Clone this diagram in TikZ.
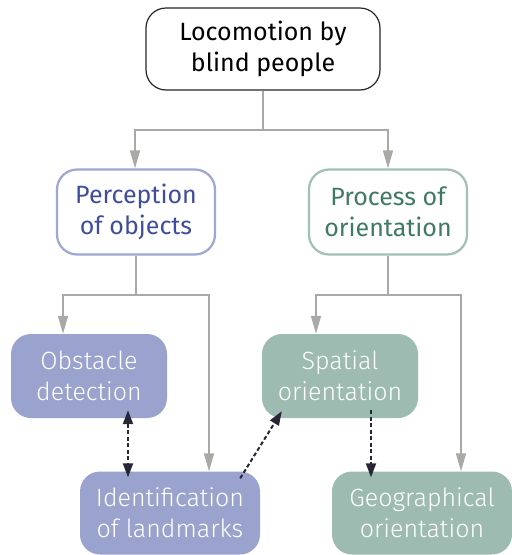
\documentclass[tikz,border=0pt]{standalone}
\usepackage{fontspec}
\setmainfont{Fira Sans}
\newfontfamily\lightfont{Fira Sans Light}
\usetikzlibrary{arrows.meta}

\definecolor{purplefill}{HTML}{9AA3CD}
\definecolor{greenfill}{HTML}{9DBBB1}
\definecolor{purpleline}{HTML}{9EA7D3}
\definecolor{purpletext}{HTML}{3F4E9C}
\definecolor{greenline}{HTML}{A0C0B5}
\definecolor{greentext}{HTML}{3F7A67}
\definecolor{linkgray}{HTML}{A9A9A6}
\definecolor{linkdark}{HTML}{262636}

\tikzset{
  box/.style={rectangle, rounded corners=20pt, align=center, inner sep=0pt,
              font=\fontsize{25}{31}\selectfont},
  rootbox/.style={box, draw=black!85, line width=1.2pt, fill=white},
  perbox/.style={box, draw=purpleline, line width=2.2pt, fill=white, text=purpletext},
  orbox/.style={box, draw=greenline, line width=2.2pt, fill=white, text=greentext},
  purplebox/.style={box, fill=purplefill, text=white, font=\lightfont\fontsize{25}{31}\selectfont},
  greenbox/.style={box, fill=greenfill, text=white, font=\lightfont\fontsize{25}{31}\selectfont},
  tree/.style={draw=linkgray, line width=1.6pt},
  treearrow/.style={tree, -{Triangle[length=18pt, width=10pt]}},
  relation/.style={draw=linkdark, line width=2pt, dash pattern=on 4pt off 2.5pt,
                   -{Triangle[length=14pt, width=10pt]}},
  relation2/.style={relation, {Triangle[length=14pt, width=10pt]}-{Triangle[length=14pt, width=10pt]}}
}

\begin{document}
\begin{tikzpicture}[x=1pt, y=-1pt]
  \useasboundingbox (0,0) rectangle (512,555);

  % hierarchy boxes
  \node[rootbox, minimum width=234pt, minimum height=82pt] (root) at (263,49) {Locomotion by\\blind people};
  \node[perbox, minimum width=158pt, minimum height=85pt] (perc) at (136,212) {Perception\\of objects};
  \node[orbox, minimum width=158pt, minimum height=85pt] (proc) at (388,212) {Process of\\orientation};

  \node[purplebox, minimum width=156pt, minimum height=84pt] (obst) at (89,376) {Obstacle\\detection};
  \node[purplebox, minimum width=180pt, minimum height=83pt] (ident) at (170,513) {Identification\\of landmarks};
  \node[greenbox, minimum width=156pt, minimum height=84pt] (spat) at (340,376) {Spatial\\orientation};
  \node[greenbox, minimum width=180pt, minimum height=83pt] (geo) at (422,513) {Geographical\\orientation};

  % junction points of the tree
  \coordinate (j0) at (263,130);
  \coordinate (j1) at (136,295);
  \coordinate (j2) at (388,295);

  % tree connectors
  \draw[tree] (root.south) -- (j0);
  \draw[treearrow] (j0) -| ([xshift=-1pt]perc.north);
  \draw[treearrow] (j0) -| (proc.north);

  \draw[tree] (perc.south) -- (j1);
  \draw[treearrow] (j1) -| ([xshift=-26pt]obst.north);
  \draw[treearrow] (j1) -| ([xshift=39pt]ident.north);

  \draw[tree] (proc.south) -- (j2);
  \draw[treearrow] (j2) -| ([xshift=-24pt]spat.north);
  \draw[treearrow] (j2) -| ([xshift=39pt]geo.north);

  % relations between the leaves (shifts in picture units, y pointing down)
  \draw[relation2] ([shift={(39,-8)}]obst.south) -- ([shift={(-42,6)}]ident.north);
  \draw[relation] ([shift={(-20,7)}]ident.north east) -- ([shift={(20,-7)}]spat.south west);
  \draw[relation] ([shift={(31,-8)}]spat.south) -- ([shift={(-51,6)}]geo.north);
\end{tikzpicture}
\end{document}
